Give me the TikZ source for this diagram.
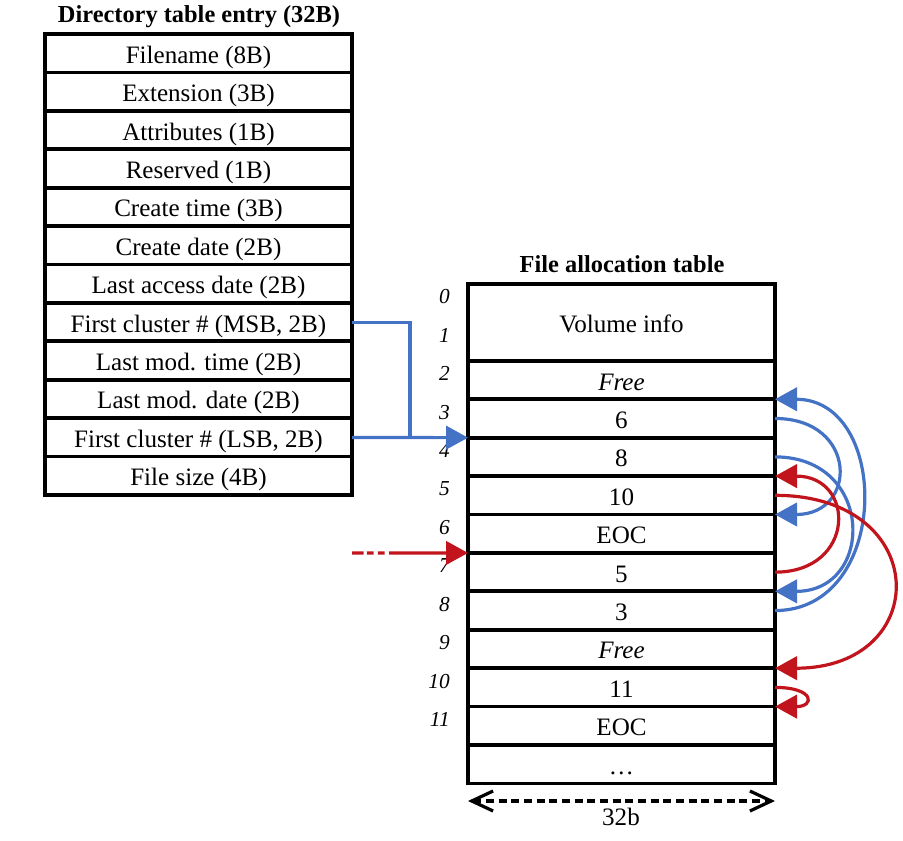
\documentclass[tikz,border=0pt]{standalone}
\usepackage{fontspec}
\setmainfont{Liberation Serif}
\usetikzlibrary{arrows.meta}
\definecolor{fblue}{RGB}{68,114,196}
\definecolor{fred}{RGB}{194,20,28}
\begin{document}
\begin{tikzpicture}[x=0.75pt,y=-0.75pt,
  cell/.style={draw=black, line width=2.8pt, minimum width=230.25pt,
    minimum height=28.815pt, inner sep=0pt, outer sep=0pt, anchor=north west,
    text height=15pt, text depth=0pt,
    font=\fontsize{18.8}{20}\selectfont},
  title/.style={anchor=base, inner sep=0pt, font=\fontsize{18.3}{20}\selectfont\bfseries},
  idx/.style={anchor=east, inner sep=0pt, font=\fontsize{16}{18}\selectfont\itshape},
  bluelink/.style={draw=fblue, line width=2.4pt},
  tipb/.style={-{Triangle[length=16.5pt,width=17.5pt]}},
  bluearc/.style={draw=fblue, line width=2.4pt, tipb},
  redarc/.style={draw=fred, line width=2.4pt, tipb},
  widtharrow/.style={line width=2.4pt, dash pattern=on 6pt off 3.5pt,
    {Straight Barb[length=16pt,width=15pt]}-{Straight Barb[length=16pt,width=15pt]}}
]
\useasboundingbox (0,0) rectangle (903,841);

% Directory table entry
\node[title] (t1) at (199,22.7) {Directory table entry (32B)};
\foreach \t [count=\i] in {{Filename (8B)},{Extension (3B)},{Attributes (1B)},
  {Reserved (1B)},{Create time (3B)},{Create date (2B)},{Last access date (2B)},
  {First cluster \# (MSB, 2B)},{Last mod. time (2B)},{Last mod. date (2B)},
  {First cluster \# (LSB, 2B)},{File size (4B)}}
  \node[cell] (d\i) at (45,{34+38.42*(\i-1)}) {\t};

% File allocation table
\node[title] (t2) at (622,272.5) {File allocation table};
\node[cell, minimum height=57.63pt] (f1) at (468,284) {Volume info};
\foreach \t [count=\i from 2] in {{\itshape Free},6,8,10,EOC,5,3,{\itshape Free},11,EOC,\ldots}
  \node[cell] (f\i) at (468,{284+38.42*\i}) {\t};

\foreach \i in {0,...,11}
  \node[idx] (l\i) at (450,{297+38.42*\i}) {\i};

% Links from directory entry
\coordinate (bj) at (410,437.6);
\draw[bluelink] (d8.east) -| (bj);
\draw[bluelink, tipb] (d11.east) -- (f4.north west);

\coordinate (rs) at (352,552.9);
\draw[draw=fred, line width=2.4pt, tipb,
  dash pattern=on 8.7pt off 2.5pt on 5pt off 3.2pt on 5pt off 3.5pt on 400pt]
  (rs) -- (f7.north west);

% Cluster chains
\draw[bluearc] (f3.east) .. controls +(83,0) and +(83,0) .. (f6.north east);
\draw[bluearc] (f4.east) .. controls +(100,0) and +(100,0) .. (f8.north east);
\draw[bluearc] (f8.east) .. controls +(116,0) and +(116,0) .. (f3.north east);
\draw[redarc] (f5.east) .. controls +(158,0) and +(158,0) .. (f10.north east);
\draw[redarc] (f7.east) .. controls +(81,0) and +(81,0) .. (f5.north east);
\draw[redarc] (f10.east) .. controls +(40,0) and +(40,0) .. (f11.north east);

% Width
\coordinate (wl) at (468,801);
\coordinate (wr) at (775,801);
\draw[widtharrow] (wl) -- (wr);
\node[anchor=base, inner sep=0pt, font=\fontsize{18.8}{20}\selectfont] (w) at (621,825) {32b};
\end{tikzpicture}
\end{document}
